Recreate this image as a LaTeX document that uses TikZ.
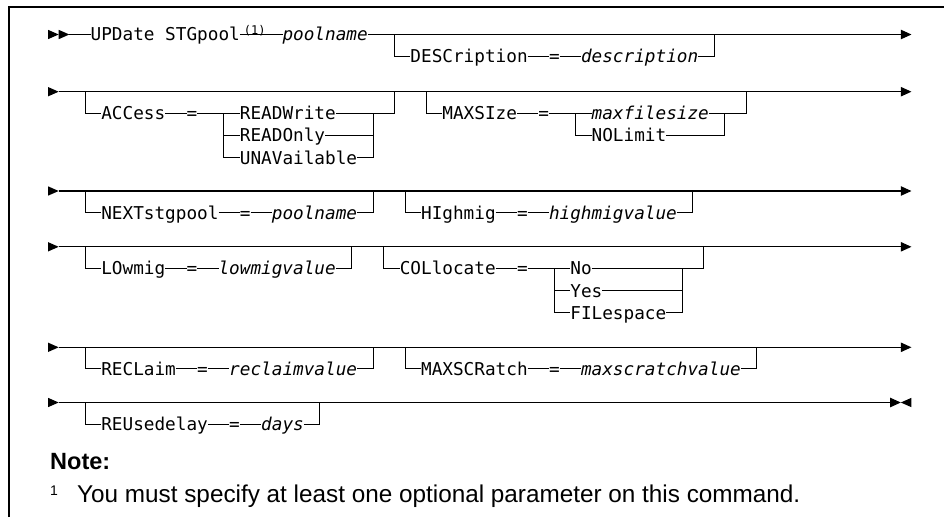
\documentclass[tikz,border=0pt]{standalone}
\usepackage{fontspec}
\setmainfont{Liberation Sans}
\newfontfamily\mono{DejaVu Sans Mono}
\usetikzlibrary{arrows.meta}
\tikzset{
  kw/.style={inner sep=0pt, outer sep=0pt, anchor=west, text height=12.9pt, text depth=0pt, font=\mono\fontsize{17.7}{20}\selectfont},
  vname/.style={kw, font=\mono\itshape\fontsize{17.7}{20}\selectfont},
  supmark/.style={inner sep=0pt, outer sep=0pt, anchor=base, font=\mono\fontsize{12}{14}\selectfont},
  rail/.style={line width=1.1pt, line join=miter},
  endarrow/.style={-{Triangle[length=10.66pt,width=9.4pt]}},
}
\newcommand\startarr[1]{\fill (0,{#1-4.7}) -- (1,#1) -- (0,{#1+4.7}) -- cycle;}
\begin{document}
\begin{tikzpicture}[x=1pt,y=-1pt]
\useasboundingbox (0,0) rectangle (944,517);
\draw[line width=1.6pt] (9,517) -- (9,7) -- (944,7);
\begin{scope}[x=10.66pt, y=-1pt, shift={(48pt,0pt)}]
% ---------- Row 1
\fill (0,29.8) -- (1,34.5) -- (0,39.2) -- cycle;
\fill (1,29.8) -- (2,34.5) -- (1,39.2) -- cycle;
\coordinate (s1) at (2,34.5);
\node[kw] (upd) at (4,34.5) {UPDate STGpool};
\node[supmark] (n1) at (19.4,34.5) {(1)};
\node[vname] (pn1) at (22,34.5) {poolname};
\coordinate (e1) at (81,34.5);
\coordinate (b1a) at (32.5,34.5);
\coordinate (b1b) at (32.5,56.1);
\node[kw] (desc) at (34,56.1) {DESCription};
\node[kw] (eq1) at (47,56.1) {=};
\node[vname] (descv) at (50,56.1) {description};
\coordinate (b1c) at (62.5,56.1);
\coordinate (b1d) at (62.5,34.5);
\draw[rail] (s1) -- (upd.west);
\draw[rail] (upd.east) -- (pn1.west);
\draw[rail,endarrow] (pn1.east) -- (e1);
\draw[rail] (b1a) -- (b1b) -- (desc.west);
\draw[rail] (desc.east) -- (eq1.west) (eq1.east) -- (descv.west);
\draw[rail] (descv.east) -- (b1c) -- (b1d);
% ---------- Row 2
\startarr{91.7}
\coordinate (s2) at (1,91.7);
\coordinate (e2) at (81,91.7);
\draw[rail,endarrow] (s2) -- (e2);
\coordinate (b2a) at (3.5,91.7);
\coordinate (b2b) at (3.5,113.3);
\node[kw] (acc) at (5,113.3) {ACCess};
\node[kw] (eq2) at (13,113.3) {=};
\coordinate (c2a) at (16.5,113.3);
\coordinate (c2b) at (16.5,135.5);
\coordinate (c2c) at (16.5,157.7);
\node[kw] (rw) at (18,113.3) {READWrite};
\node[kw] (ro) at (18,135.5) {READOnly};
\node[kw] (una) at (18,157.7) {UNAVailable};
\coordinate (c2d) at (30.5,113.3);
\coordinate (c2e) at (30.5,135.5);
\coordinate (c2f) at (30.5,157.7);
\coordinate (b2c) at (32.5,113.3);
\coordinate (b2d) at (32.5,91.7);
\draw[rail] (b2a) -- (b2b) -- (acc.west);
\draw[rail] (acc.east) -- (eq2.west) (eq2.east) -- (rw.west);
\draw[rail] (rw.east) -- (b2c) -- (b2d);
\draw[rail] (c2a) -- (c2c) -- (una.west);
\draw[rail] (c2b) -- (ro.west);
\draw[rail] (ro.east) -- (c2e);
\draw[rail] (una.east) -- (c2f) -- (c2d);
\coordinate (b2e) at (35.5,91.7);
\coordinate (b2f) at (35.5,113.3);
\node[kw] (maxs) at (37,113.3) {MAXSIze};
\node[kw] (eq3) at (46,113.3) {=};
\coordinate (c2g) at (49.5,113.3);
\coordinate (c2h) at (49.5,135.5);
\node[vname] (mfs) at (51,113.3) {maxfilesize};
\node[kw] (nol) at (51,135.5) {NOLimit};
\coordinate (c2i) at (63.5,135.5);
\coordinate (c2j) at (63.5,113.3);
\coordinate (b2g) at (65.5,113.3);
\coordinate (b2h) at (65.5,91.7);
\draw[rail] (b2e) -- (b2f) -- (maxs.west);
\draw[rail] (maxs.east) -- (eq3.west) (eq3.east) -- (mfs.west);
\draw[rail] (mfs.east) -- (b2g) -- (b2h);
\draw[rail] (c2g) -- (c2h) -- (nol.west);
\draw[rail] (nol.east) -- (c2i) -- (c2j);
% ---------- Row 3
\startarr{191}
\coordinate (s3) at (1,191);
\coordinate (e3) at (81,191);
\draw[rail,endarrow] (s3) -- (e3);
\coordinate (b3a) at (3.5,191);
\coordinate (b3b) at (3.5,212.6);
\node[kw] (nxt) at (5,212.6) {NEXTstgpool};
\node[kw] (eq4) at (18,212.6) {=};
\node[vname] (pn2) at (21,212.6) {poolname};
\coordinate (b3c) at (30.5,212.6);
\coordinate (b3d) at (30.5,191);
\draw[rail] (b3a) -- (b3b) -- (nxt.west);
\draw[rail] (nxt.east) -- (eq4.west) (eq4.east) -- (pn2.west);
\draw[rail] (pn2.east) -- (b3c) -- (b3d);
\coordinate (b3e) at (33.5,191);
\coordinate (b3f) at (33.5,212.6);
\node[kw] (hig) at (35,212.6) {HIghmig};
\node[kw] (eq5) at (44,212.6) {=};
\node[vname] (hmv) at (47,212.6) {highmigvalue};
\coordinate (b3g) at (60.5,212.6);
\coordinate (b3h) at (60.5,191);
\draw[rail] (b3e) -- (b3f) -- (hig.west);
\draw[rail] (hig.east) -- (eq5.west) (eq5.east) -- (hmv.west);
\draw[rail] (hmv.east) -- (b3g) -- (b3h);
% ---------- Row 4
\startarr{246.8}
\coordinate (s4) at (1,246.8);
\coordinate (e4) at (81,246.8);
\draw[rail,endarrow] (s4) -- (e4);
\coordinate (b4a) at (3.5,246.8);
\coordinate (b4b) at (3.5,268.4);
\node[kw] (low) at (5,268.4) {LOwmig};
\node[kw] (eq6) at (13,268.4) {=};
\node[vname] (lmv) at (16,268.4) {lowmigvalue};
\coordinate (b4c) at (28.5,268.4);
\coordinate (b4d) at (28.5,246.8);
\draw[rail] (b4a) -- (b4b) -- (low.west);
\draw[rail] (low.east) -- (eq6.west) (eq6.east) -- (lmv.west);
\draw[rail] (lmv.east) -- (b4c) -- (b4d);
\coordinate (b4e) at (31.5,246.8);
\coordinate (b4f) at (31.5,268.4);
\node[kw] (coll) at (33,268.4) {COLlocate};
\node[kw] (eq7) at (44,268.4) {=};
\coordinate (c4a) at (47.5,268.4);
\coordinate (c4b) at (47.5,290.6);
\coordinate (c4c) at (47.5,312.8);
\node[kw] (no) at (49,268.4) {No};
\node[kw] (yes) at (49,290.6) {Yes};
\node[kw] (fil) at (49,312.8) {FILespace};
\coordinate (c4d) at (59.5,268.4);
\coordinate (c4e) at (59.5,290.6);
\coordinate (c4f) at (59.5,312.8);
\coordinate (b4g) at (61.5,268.4);
\coordinate (b4h) at (61.5,246.8);
\draw[rail] (b4e) -- (b4f) -- (coll.west);
\draw[rail] (coll.east) -- (eq7.west) (eq7.east) -- (no.west);
\draw[rail] (no.east) -- (b4g) -- (b4h);
\draw[rail] (c4a) -- (c4c) -- (fil.west);
\draw[rail] (c4b) -- (yes.west);
\draw[rail] (yes.east) -- (c4e);
\draw[rail] (fil.east) -- (c4f) -- (c4d);
% ---------- Row 5
\startarr{347.3}
\coordinate (s5) at (1,347.3);
\coordinate (e5) at (81,347.3);
\draw[rail,endarrow] (s5) -- (e5);
\coordinate (b5a) at (3.5,347.3);
\coordinate (b5b) at (3.5,368.9);
\node[kw] (rec) at (5,368.9) {RECLaim};
\node[kw] (eq8) at (14,368.9) {=};
\node[vname] (rcv) at (17,368.9) {reclaimvalue};
\coordinate (b5c) at (30.5,368.9);
\coordinate (b5d) at (30.5,347.3);
\draw[rail] (b5a) -- (b5b) -- (rec.west);
\draw[rail] (rec.east) -- (eq8.west) (eq8.east) -- (rcv.west);
\draw[rail] (rcv.east) -- (b5c) -- (b5d);
\coordinate (b5e) at (33.5,347.3);
\coordinate (b5f) at (33.5,368.9);
\node[kw] (msc) at (35,368.9) {MAXSCRatch};
\node[kw] (eq9) at (47,368.9) {=};
\node[vname] (msv) at (50,368.9) {maxscratchvalue};
\coordinate (b5g) at (66.5,368.9);
\coordinate (b5h) at (66.5,347.3);
\draw[rail] (b5e) -- (b5f) -- (msc.west);
\draw[rail] (msc.east) -- (eq9.west) (eq9.east) -- (msv.west);
\draw[rail] (msv.east) -- (b5g) -- (b5h);
% ---------- Row 6
\startarr{402.5}
\coordinate (s6) at (1,402.5);
\coordinate (e6) at (80,402.5);
\draw[rail,endarrow] (s6) -- (e6);
\fill (81,397.8) -- (80,402.5) -- (81,407.2) -- cycle;
\coordinate (b6a) at (3.5,402.5);
\coordinate (b6b) at (3.5,424.1);
\node[kw] (reu) at (5,424.1) {REUsedelay};
\node[kw] (eq10) at (17,424.1) {=};
\node[vname] (days) at (20,424.1) {days};
\coordinate (b6c) at (25.5,424.1);
\coordinate (b6d) at (25.5,402.5);
\draw[rail] (b6a) -- (b6b) -- (reu.west);
\draw[rail] (reu.east) -- (eq10.west) (eq10.east) -- (days.west);
\draw[rail] (days.east) -- (b6c) -- (b6d);
\end{scope}
% ---------- Note
\node[anchor=base west, inner sep=0pt, font=\bfseries\fontsize{23.5}{26}\selectfont] (note) at (50,469) {Note:};
\node[anchor=base west, inner sep=0pt, font=\fontsize{14}{16}\selectfont] (fnmark) at (50,495) {1};
\node[anchor=base west, inner sep=0pt, font=\fontsize{24.3}{28}\selectfont] (fntext) at (77,502) {You must specify at least one optional parameter on this command.};
\end{tikzpicture}
\end{document}
